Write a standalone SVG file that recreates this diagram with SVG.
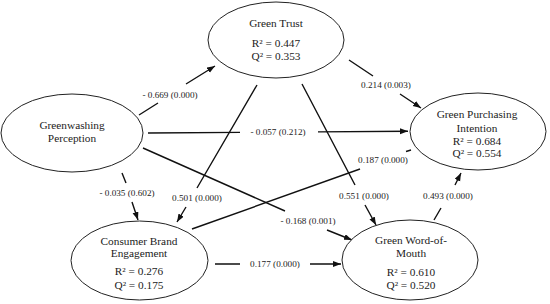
<svg xmlns="http://www.w3.org/2000/svg" width="550" height="304" viewBox="0 0 550 304">
<style>
.node ellipse{fill:#fff;stroke:#222;stroke-width:1}
.nt{font-family:"Liberation Serif","Times New Roman",serif;font-size:11.3px;fill:#222;text-anchor:middle}
.el{font-family:"Liberation Serif","Times New Roman",serif;font-size:9.2px;fill:#222;text-anchor:middle}
.edge{fill:none;stroke:#111;stroke-width:1.4}
</style>
<defs>
<marker id="ah" markerUnits="userSpaceOnUse" markerWidth="9" markerHeight="7" refX="8" refY="3" orient="auto">
<path d="M0,0 L8,3 L0,6 z" fill="#111"/>
</marker>
</defs>
<rect width="550" height="304" fill="#fff"/>
<g id="connectors">
<path class="edge" d="M139,115 L158,103 M186,84 L215,66" marker-end="url(#ah)"/>
<path class="edge" d="M148,133 L240,132.4 M318,131.9 L408,131.3" marker-end="url(#ah)"/>
<path class="edge" d="M349,60 L373,76 M400,94 L421,108" marker-end="url(#ah)"/>
<path class="edge" d="M257,85 L197,188 M186,207 L177,222" marker-end="url(#ah)"/>
<path class="edge" d="M302,84 L355,185 M365,205 L376,225" marker-end="url(#ah)"/>
<path class="edge" d="M143,148 L285,211 M327,230 L352,240" marker-end="url(#ah)"/>
<path class="edge" d="M192,229 L360,169"/>
<path class="edge" d="M406,151.5 L411,150"/>
<path class="edge" d="M434,220 L441,208 M455,185 L461,173" marker-end="url(#ah)"/>
<path class="edge" d="M215,264 L240,264 M310,264 L341,264" marker-end="url(#ah)"/>
<path class="edge" d="M122,173 L126,183 M132,202 L138,220" marker-end="url(#ah)"/>
<text class="el" x="170" y="98">- 0.669 (0.000)</text>
<text class="el" x="278" y="135">- 0.057 (0.212)</text>
<text class="el" x="386" y="88">0.214 (0.003)</text>
<text class="el" x="383" y="163">0.187 (0.000)</text>
<text class="el" x="364" y="199">0.551 (0.000)</text>
<text class="el" x="448" y="199">0.493 (0.000)</text>
<text class="el" x="308" y="224">- 0.168 (0.001)</text>
<text class="el" x="275" y="267">0.177 (0.000)</text>
<text class="el" x="127" y="196">- 0.035 (0.602)</text>
<text class="el" x="197" y="201">0.501 (0.000)</text>
</g>
<g id="green-trust" class="node">
<ellipse cx="276" cy="40" rx="68" ry="38"/>
<text class="nt" x="276" y="27">Green Trust</text>
<text class="nt" x="276" y="47">R² = 0.447</text>
<text class="nt" x="276" y="60">Q² = 0.353</text>
</g>
<g id="greenwashing-perception" class="node">
<ellipse cx="72" cy="133" rx="71" ry="39"/>
<text class="nt" x="72" y="129">Greenwashing</text>
<text class="nt" x="72" y="142">Perception</text>
</g>
<g id="green-purchasing-intention" class="node">
<ellipse cx="478" cy="131.5" rx="68" ry="38.5"/>
<text class="nt" x="477" y="118">Green Purchasing</text>
<text class="nt" x="477" y="131.5">Intention</text>
<text class="nt" x="477" y="145">R² = 0.684</text>
<text class="nt" x="477" y="157">Q² = 0.554</text>
</g>
<g id="consumer-brand-engagement" class="node">
<ellipse cx="139.5" cy="260.5" rx="68.5" ry="39.5"/>
<text class="nt" x="139" y="245">Consumer Brand</text>
<text class="nt" x="139" y="257">Engagement</text>
<text class="nt" x="139" y="275">R² = 0.276</text>
<text class="nt" x="139" y="289">Q² = 0.175</text>
</g>
<g id="green-word-of-mouth" class="node">
<ellipse cx="410" cy="260" rx="68" ry="40"/>
<text class="nt" x="411" y="244">Green Word-of-</text>
<text class="nt" x="411" y="257">Mouth</text>
<text class="nt" x="411" y="276">R² = 0.610</text>
<text class="nt" x="411" y="289">Q² = 0.520</text>
</g>
</svg>
